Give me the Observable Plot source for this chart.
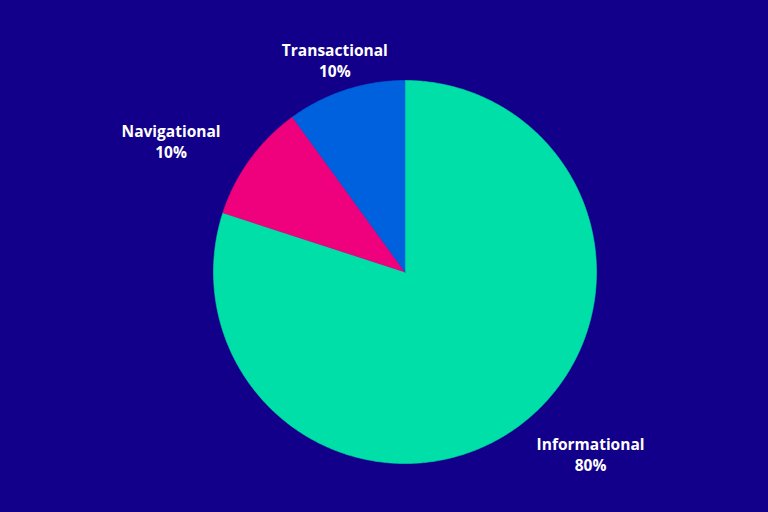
<!DOCTYPE html>
<html>
<head>
<meta charset="utf-8">
<script src="https://cdn.jsdelivr.net/npm/d3@7"></script>
<script src="https://cdn.jsdelivr.net/npm/@observablehq/plot@0.6"></script>
<style>
  html, body { margin: 0; padding: 0; background: #13008a; }
  #chart { width: 768px; height: 512px; }
</style>
</head>
<body>
<div id="chart"></div>
<script>
const categories = ["Informational", "Navigational", "Transactional"];
const shares = [80, 10, 10];
const palette = ["#00dfa8", "#ef007d", "#0061de"];

const arcs = d3.pie().sort(null).value(d => d)(shares);

// Build slice polygons (unit circle, y up) from the pie angles
const slicePts = [];
arcs.forEach((a, i) => {
  const name = categories[i];
  slicePts.push({name, x: 0, y: 0});
  const steps = Math.max(2, Math.ceil((a.endAngle - a.startAngle) / (Math.PI / 360)));
  for (let k = 0; k <= steps; k++) {
    const t = a.startAngle + (a.endAngle - a.startAngle) * k / steps;
    slicePts.push({name, x: Math.sin(t), y: Math.cos(t)});
  }
  slicePts.push({name, x: 0, y: 0});
});

// Label anchors at slice mid-angle on the rim
const labels = arcs.map((a, i) => {
  const m = (a.startAngle + a.endAngle) / 2;
  return {name: categories[i], text: `${categories[i]}\n${shares[i]}%`, x: Math.sin(m), y: Math.cos(m)};
});
const offsets = {
  Transactional: [-11, -30],
  Navigational: [-79, -19],
  Informational: [73, 27]
};

const labelMarks = labels.map(l => Plot.text([l], {
  x: "x", y: "y", text: "text",
  dx: offsets[l.name][0], dy: offsets[l.name][1],
  fill: "white", fontSize: 15.5, fontWeight: 700,
  lineHeight: 1.35, textAnchor: "middle", lineAnchor: "middle"
}));

const chart = Plot.plot({
  width: 768,
  height: 512,
  margin: 0,
  style: {background: "#13008a", fontFamily: "'Open Sans', sans-serif"},
  x: {domain: [-1, 1], range: [213, 596], axis: null},
  y: {domain: [-1, 1], range: [463, 80], axis: null},
  color: {domain: categories, range: palette},
  marks: [
    Plot.line(slicePts, {x: "x", y: "y", z: "name", fill: "name", stroke: "name", strokeWidth: 0.6, curve: "linear"}),
    ...labelMarks
  ]
});
document.getElementById("chart").appendChild(chart);
</script>
</body>
</html>
